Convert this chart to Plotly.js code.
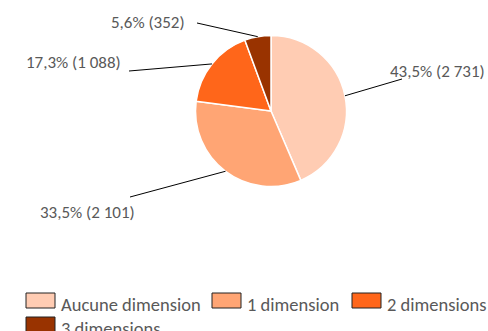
<!DOCTYPE html>
<html>
<head>
<meta charset="utf-8">
<script src="https://cdn.plot.ly/plotly-3.0.1.min.js"></script>
<style>html,body{margin:0;padding:0;background:#fff;}#chart{width:488px;height:331px;}</style>
</head>
<body>
<div id="chart"></div>
<script>
// ---- data ----
const labels = ['Aucune dimension', '1 dimension', '2 dimensions', '3 dimensions'];
const values = [2731, 2101, 1088, 352];
const pctText = ['43,5%', '33,5%', '17,3%', '5,6%'];
const countText = ['2 731', '2 101', '1 088', '352'];
const colors = ['#FFCCB3', '#FFA574', '#FF661A', '#993300'];

// ---- layout constants (pixels) ----
const W = 488, H = 331;
const FONT = 'Carlito, Lato, sans-serif';
const TXT = '#595959';
const cx = 271, cy = 111, r = 75.5;
// label text anchor and leader-line outer end, per slice
const labelAnchor = [
  {x: 388, y: 72, xanchor: 'left'},
  {x: 38, y: 212, xanchor: 'left'},
  {x: 123, y: 62, xanchor: 'right'},
  {x: 187, y: 23, xanchor: 'right'}
];
const lineEnd = [[402, 79], [130, 197], [129, 71], [197, 23]];
const legendPos = [[26, 300.5], [212, 300.5], [352, 300.5], [26, 324.5]];
const sw = 29, sh = 15, textDrop = 3.5;

const X = px => px / W;
const Y = py => 1 - py / H;

const total = values.reduce((a, b) => a + b, 0);
const shapes = [];
const annotations = [];
let cum = 0;
values.forEach((v, i) => {
  const mid = (cum + v / 2) / total * 2 * Math.PI; // clockwise from 12 o'clock
  cum += v;
  const ex = cx + r * Math.sin(mid), ey = cy - r * Math.cos(mid);
  shapes.push({type: 'line', xref: 'paper', yref: 'paper',
    x0: X(ex), y0: Y(ey), x1: X(lineEnd[i][0]), y1: Y(lineEnd[i][1]),
    line: {color: '#000', width: 1}});
  annotations.push({xref: 'paper', yref: 'paper', x: X(labelAnchor[i].x), y: Y(labelAnchor[i].y),
    xanchor: labelAnchor[i].xanchor, yanchor: 'middle', showarrow: false,
    text: pctText[i] + ' (' + countText[i] + ')',
    font: {family: FONT, size: 17, color: TXT}});
});
// custom legend
labels.forEach((lab, i) => {
  const [lx, ly] = legendPos[i];
  shapes.push({type: 'rect', xref: 'paper', yref: 'paper',
    x0: X(lx), x1: X(lx + sw), y0: Y(ly - sh / 2), y1: Y(ly + sh / 2),
    fillcolor: colors[i], line: {color: '#222', width: 1}});
  annotations.push({xref: 'paper', yref: 'paper', x: X(lx + sw + 4), y: Y(ly + textDrop),
    xanchor: 'left', yanchor: 'middle', showarrow: false, text: lab,
    font: {family: FONT, size: 18.5, color: TXT}});
});

const trace = {
  type: 'pie', labels: labels, values: values, sort: false, direction: 'clockwise', rotation: 0,
  marker: {colors: colors, line: {color: '#fff', width: 1.5}},
  textinfo: 'none', hoverinfo: 'none', showlegend: false,
  domain: {x: [X(cx - r), X(cx + r)], y: [Y(cy + r), Y(cy - r)]}
};

Plotly.newPlot('chart', [trace], {
  width: W, height: H, margin: {l: 0, r: 0, t: 0, b: 0},
  paper_bgcolor: '#fff', showlegend: false,
  shapes: shapes, annotations: annotations
}, {staticPlot: true});
</script>
</body>
</html>
